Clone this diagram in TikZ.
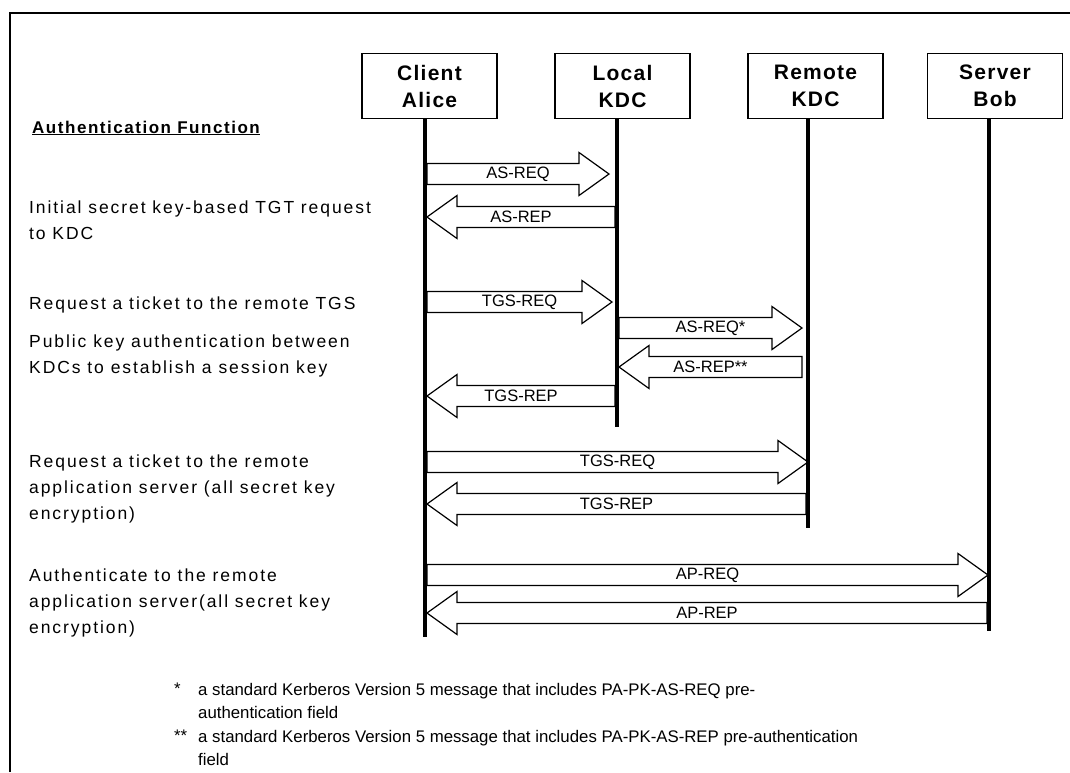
\documentclass[tikz,border=0pt]{standalone}
\usepackage{fontspec}
\setmainfont{Liberation Sans}
\newfontfamily\spaced[LetterSpace=11]{Liberation Sans}
\newfontfamily\headspaced[LetterSpace=9]{Liberation Sans}
\newfontfamily\boxspaced[LetterSpace=6]{Liberation Sans}
\usetikzlibrary{calc}
\tikzset{
  frame/.style={line width=2pt},
  actor/.style={draw, line width=1.4pt, minimum width=135pt, minimum height=65pt, align=center,
    font=\boxspaced\bfseries\fontsize{21}{27}\selectfont, inner sep=0pt},
  lifeline/.style={line width=4pt},
  barr/.style={draw, line width=1.2pt, fill=white, line join=miter},
  lbl/.style={font=\fontsize{16.5}{18}\selectfont, inner sep=0pt},
  desc/.style={font=\spaced\fontsize{17.5}{26}\selectfont, align=left, anchor=west, inner sep=0pt},
  note/.style={font=\fontsize{16.8}{23.5}\selectfont, align=left, anchor=west, inner sep=0pt},
}
\newcommand{\rarrow}[4]{%
  \draw[barr] ($(#2)+(0,-10.5)$) -- ($(#3)+(-30,-10.5)$) -- ($(#3)+(-30,-21.5)$) -- (#3)
    -- ($(#3)+(-30,21.5)$) -- ($(#3)+(-30,10.5)$) -- ($(#2)+(0,10.5)$) -- cycle;
  \node[lbl] (#1) at ($(#2)!0.5!(#3)$) {#4};}
\newcommand{\larrow}[4]{%
  \draw[barr] ($(#2)+(0,-10.5)$) -- ($(#3)+(30,-10.5)$) -- ($(#3)+(30,-21.5)$) -- (#3)
    -- ($(#3)+(30,21.5)$) -- ($(#3)+(30,10.5)$) -- ($(#2)+(0,10.5)$) -- cycle;
  \node[lbl] (#1) at ($(#2)!0.5!(#3)$) {#4};}
\begin{document}
\begin{tikzpicture}[x=1pt,y=-1pt]
\useasboundingbox (0,0) rectangle (1070,772);
\fill[white] (0,0) rectangle (1070,772);
% frame
\draw[frame] (10,772) -- (10,13) -- (1072,13);
% actors
\node[actor] (alice)  at (429.5,86) {Client\\Alice};
\node[actor] (local)  at (622.5,86) {Local\\KDC};
\node[actor] (remote) at (815.5,86) {Remote\\KDC};
\node[actor] (bob)    at (995,86)   {Server\\Bob};
% lifeline ends
\coordinate (aliceTop) at (425,118);   \coordinate (aliceEnd) at (425,637);
\coordinate (localTop) at (617,118);   \coordinate (localEnd) at (617,427);
\coordinate (remoteTop) at (808,118);  \coordinate (remoteEnd) at (808,528);
\coordinate (bobTop) at (989,118);     \coordinate (bobEnd) at (989,631);
% heading
\node[anchor=west, inner sep=0pt, font=\headspaced\bfseries\fontsize{17}{18}\selectfont] (heading) at (32,128) {\underline{Authentication Function}};
% message points
\coordinate (m1s) at (427,174);  \coordinate (m1e) at (609,174);
\coordinate (m2s) at (615,217);  \coordinate (m2e) at (427,217);
\coordinate (m3s) at (427,302);  \coordinate (m3e) at (612,302);
\coordinate (m4s) at (619,328);  \coordinate (m4e) at (802,328);
\coordinate (m5s) at (802,367);  \coordinate (m5e) at (619,367);
\coordinate (m6s) at (615,396);  \coordinate (m6e) at (427,396);
\coordinate (m7s) at (427,462);  \coordinate (m7e) at (808,462);
\coordinate (m8s) at (806,504);  \coordinate (m8e) at (427,504);
\coordinate (m9s) at (427,575);  \coordinate (m9e) at (988,575);
\coordinate (m10s) at (987,613); \coordinate (m10e) at (427,613);
\rarrow{l1}{m1s}{m1e}{AS-REQ}
\larrow{l2}{m2s}{m2e}{AS-REP}
\rarrow{l3}{m3s}{m3e}{TGS-REQ}
\rarrow{l4}{m4s}{m4e}{AS-REQ*}
\larrow{l5}{m5s}{m5e}{AS-REP**}
\larrow{l6}{m6s}{m6e}{TGS-REP}
\rarrow{l7}{m7s}{m7e}{TGS-REQ}
\larrow{l8}{m8s}{m8e}{TGS-REP}
\rarrow{l9}{m9s}{m9e}{AP-REQ}
\larrow{l10}{m10s}{m10e}{AP-REP}
% lifelines
\draw[lifeline] (aliceTop) -- (aliceEnd);
\draw[lifeline] (localTop) -- (localEnd);
\draw[lifeline] (remoteTop) -- (remoteEnd);
\draw[lifeline] (bobTop) -- (bobEnd);
% descriptions
\node[desc] (d1) at (29,220) {Initial secret key-based TGT request\\to KDC};
\node[desc] (d2) at (29,305) {Request a ticket to the remote TGS};
\node[desc] (d3) at (29,356) {Public key authentication between\\KDCs to establish a session key};
\node[desc] (d4) at (29,489) {Request a ticket to the remote\\application server (all secret key\\encryption)};
\node[desc] (d5) at (29,603) {Authenticate to the remote\\application server(all secret key\\encryption)};
% footnotes
\node[note] (s1) at (174,689) {*};
\node[note] (f1) at (198,701) {a standard Kerberos Version 5 message that includes PA-PK-AS-REQ pre-\\authentication field};
\node[note] (s2) at (174,736) {**};
\node[note] (f2) at (198,748) {a standard Kerberos Version 5 message that includes PA-PK-AS-REP pre-authentication\\field};
\end{tikzpicture}
\end{document}
